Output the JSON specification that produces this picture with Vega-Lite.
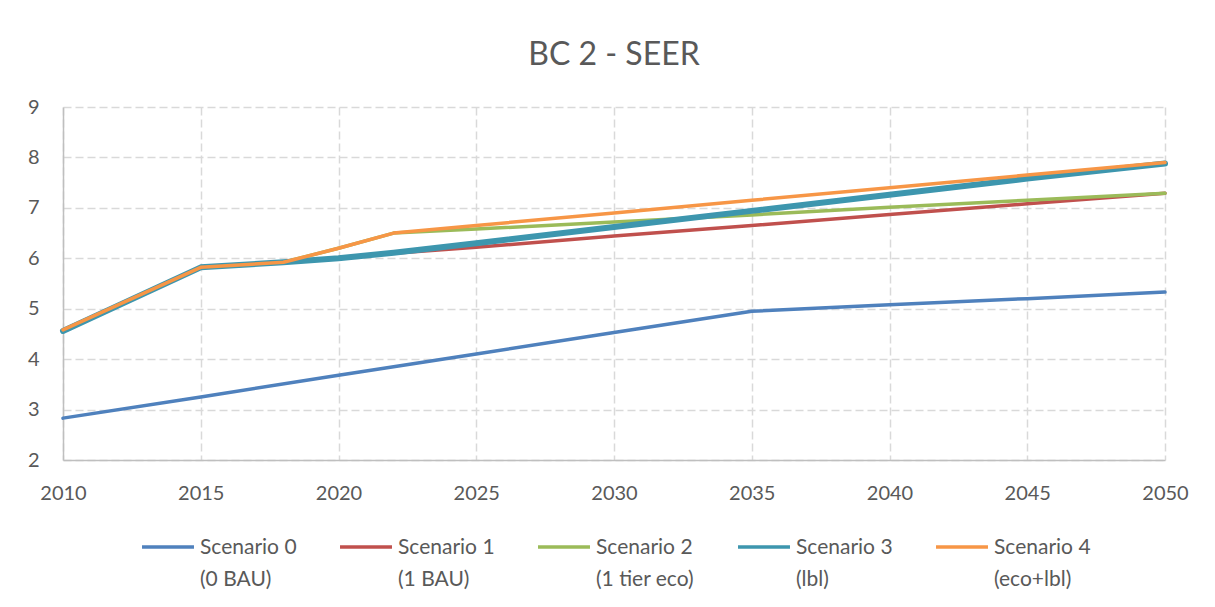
{
  "$schema": "https://vega.github.io/schema/vega-lite/v6.json",
  "width": 1102,
  "height": 353,
  "autosize": {"type": "none"},
  "padding": {"left": 63, "top": 107, "right": 50, "bottom": 147},
  "background": "white",
  "title": {"text": "BC 2 - SEER", "font": "Lato", "fontSize": 32, "fontWeight": "normal", "color": "#595959", "anchor": "middle", "baseline": "alphabetic", "offset": 0},
  "datasets": {
    "rows": [
      {"series": "Scenario 0|(0 BAU)", "year": 2010, "value": 2.83},
      {"series": "Scenario 0|(0 BAU)", "year": 2015, "value": 3.25},
      {"series": "Scenario 0|(0 BAU)", "year": 2020, "value": 3.68},
      {"series": "Scenario 0|(0 BAU)", "year": 2025, "value": 4.1},
      {"series": "Scenario 0|(0 BAU)", "year": 2030, "value": 4.53},
      {"series": "Scenario 0|(0 BAU)", "year": 2035, "value": 4.95},
      {"series": "Scenario 0|(0 BAU)", "year": 2040, "value": 5.08},
      {"series": "Scenario 0|(0 BAU)", "year": 2045, "value": 5.2},
      {"series": "Scenario 0|(0 BAU)", "year": 2050, "value": 5.33},

      {"series": "Scenario 1|(1 BAU)", "year": 2010, "value": 4.57},
      {"series": "Scenario 1|(1 BAU)", "year": 2015, "value": 5.82},
      {"series": "Scenario 1|(1 BAU)", "year": 2018, "value": 5.92},
      {"series": "Scenario 1|(1 BAU)", "year": 2020, "value": 6.0},
      {"series": "Scenario 1|(1 BAU)", "year": 2022, "value": 6.1},
      {"series": "Scenario 1|(1 BAU)", "year": 2025, "value": 6.22},
      {"series": "Scenario 1|(1 BAU)", "year": 2030, "value": 6.44},
      {"series": "Scenario 1|(1 BAU)", "year": 2035, "value": 6.65},
      {"series": "Scenario 1|(1 BAU)", "year": 2040, "value": 6.87},
      {"series": "Scenario 1|(1 BAU)", "year": 2045, "value": 7.08},
      {"series": "Scenario 1|(1 BAU)", "year": 2050, "value": 7.29},

      {"series": "Scenario 2|(1 tier eco)", "year": 2010, "value": 4.57},
      {"series": "Scenario 2|(1 tier eco)", "year": 2015, "value": 5.82},
      {"series": "Scenario 2|(1 tier eco)", "year": 2018, "value": 5.92},
      {"series": "Scenario 2|(1 tier eco)", "year": 2020, "value": 6.2},
      {"series": "Scenario 2|(1 tier eco)", "year": 2022, "value": 6.5},
      {"series": "Scenario 2|(1 tier eco)", "year": 2025, "value": 6.58},
      {"series": "Scenario 2|(1 tier eco)", "year": 2030, "value": 6.72},
      {"series": "Scenario 2|(1 tier eco)", "year": 2035, "value": 6.86},
      {"series": "Scenario 2|(1 tier eco)", "year": 2040, "value": 7.01},
      {"series": "Scenario 2|(1 tier eco)", "year": 2045, "value": 7.15},
      {"series": "Scenario 2|(1 tier eco)", "year": 2050, "value": 7.29},

      {"series": "Scenario 3|(lbl)", "year": 2010, "value": 4.56},
      {"series": "Scenario 3|(lbl)", "year": 2015, "value": 5.82},
      {"series": "Scenario 3|(lbl)", "year": 2018, "value": 5.92},
      {"series": "Scenario 3|(lbl)", "year": 2020, "value": 6.0},
      {"series": "Scenario 3|(lbl)", "year": 2022, "value": 6.11},
      {"series": "Scenario 3|(lbl)", "year": 2025, "value": 6.3},
      {"series": "Scenario 3|(lbl)", "year": 2030, "value": 6.62},
      {"series": "Scenario 3|(lbl)", "year": 2035, "value": 6.94},
      {"series": "Scenario 3|(lbl)", "year": 2040, "value": 7.26},
      {"series": "Scenario 3|(lbl)", "year": 2045, "value": 7.58},
      {"series": "Scenario 3|(lbl)", "year": 2050, "value": 7.88},

      {"series": "Scenario 4|(eco+lbl)", "year": 2010, "value": 4.58},
      {"series": "Scenario 4|(eco+lbl)", "year": 2015, "value": 5.82},
      {"series": "Scenario 4|(eco+lbl)", "year": 2018, "value": 5.92},
      {"series": "Scenario 4|(eco+lbl)", "year": 2020, "value": 6.2},
      {"series": "Scenario 4|(eco+lbl)", "year": 2022, "value": 6.5},
      {"series": "Scenario 4|(eco+lbl)", "year": 2025, "value": 6.65},
      {"series": "Scenario 4|(eco+lbl)", "year": 2030, "value": 6.9},
      {"series": "Scenario 4|(eco+lbl)", "year": 2035, "value": 7.15},
      {"series": "Scenario 4|(eco+lbl)", "year": 2040, "value": 7.4},
      {"series": "Scenario 4|(eco+lbl)", "year": 2045, "value": 7.65},
      {"series": "Scenario 4|(eco+lbl)", "year": 2050, "value": 7.9}
    ]
  },
  "data": {"name": "rows"},
  "mark": {"type": "line", "strokeCap": "round", "strokeJoin": "round"},
  "encoding": {
    "x": {
      "field": "year", "type": "quantitative",
      "scale": {"domain": [2010, 2050], "nice": false, "zero": false},
      "axis": {"title": null, "values": [2010, 2015, 2020, 2025, 2030, 2035, 2040, 2045, 2050], "format": "d", "labelPadding": 23}
    },
    "y": {
      "field": "value", "type": "quantitative",
      "scale": {"domain": [2, 9], "nice": false, "zero": false},
      "axis": {"title": null, "values": [2, 3, 4, 5, 6, 7, 8, 9], "labelPadding": 24}
    },
    "color": {
      "field": "series", "type": "nominal",
      "scale": {
        "domain": ["Scenario 0|(0 BAU)", "Scenario 1|(1 BAU)", "Scenario 2|(1 tier eco)", "Scenario 3|(lbl)", "Scenario 4|(eco+lbl)"],
        "range": ["#4F81BD", "#C0504D", "#9BBB59", "#3D96AE", "#F79646"]
      },
      "legend": {
        "title": null,
        "orient": "none", "legendX": 77, "legendY": 412,
        "direction": "horizontal", "columns": 5,
        "symbolType": "stroke", "symbolSize": 2700, "symbolStrokeWidth": 3.5,
        "labelFont": "Lato", "labelFontSize": 21, "labelColor": "#595959",
        "labelExpr": "split(datum.label, '|')",
        "labelBaseline": "top", "labelOffset": 4, "labelLimit": 200,
        "columnPadding": 36,
        "encode": {
          "labels": {"update": {"lineHeight": {"value": 32}, "dy": {"value": -10}}}
        }
      }
    },
    "strokeWidth": {
      "condition": {"test": "datum.series === 'Scenario 3|(lbl)'", "value": 6},
      "value": 3.5
    }
  },
  "config": {
    "view": {"stroke": null},
    "axis": {
      "labelFont": "Lato", "labelFontSize": 20, "labelColor": "#595959",
      "labelFlush": false,
      "ticks": false, "tickSize": 0,
      "domainColor": "#BFBFBF", "domainWidth": 1.5,
      "grid": true, "gridColor": "#D9D9D9", "gridWidth": 1.5, "gridDash": [8, 4]
    }
  }
}
